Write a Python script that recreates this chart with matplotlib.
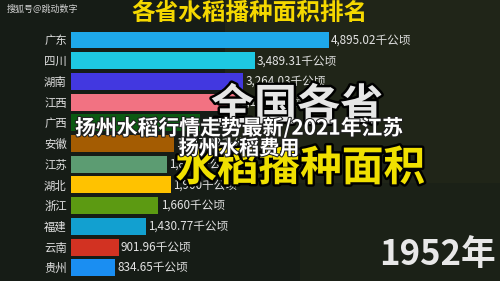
import matplotlib
matplotlib.use("Agg")
import matplotlib.pyplot as plt
import matplotlib.patheffects as pe

plt.rcParams['font.family'] = ['Noto Sans CJK SC', 'DejaVu Sans']

provinces = ['广东', '四川', '湖南', '江西', '广西', '安徽', '江苏', '湖北',
             '浙江', '福建', '云南', '贵州']
area = [4895.02, 3489.31, 3264.03, 3180.0, 2450.0, 1947.33, 1820.0, 1900.0,
        1660.0, 1430.77, 901.96, 834.65]
labels = ['4,895.02千公顷', '3,489.31千公顷', '3,264.03千公顷', '3,180千公顷',
          '2,450千公顷', '1,947.33千公顷', '1,820千公顷', '1,900千公顷',
          '1,660千公顷', '1,430.77千公顷', '901.96千公顷', '834.65千公顷']
colors = ['#1ea8ea', '#1ec8e2', '#4238e0', '#f27282', '#0b5a12', '#a45c02',
          '#5c9c72', '#ffc200', '#5c9a12', '#12a0d0', '#d23222', '#1a8ef2']

fig = plt.figure(figsize=(5, 2.81), dpi=100)
fig.patch.set_facecolor('#161c16')

# olive tint of the background photo on the right
bg = fig.add_axes([0, 0, 1, 1], zorder=0)
bg.set_xlim(0, 1)
bg.set_ylim(0, 1)
bg.axis('off')
bg.add_patch(plt.Rectangle((0.45, 0.35), 0.55, 0.65, color='#2a2e1a', alpha=0.55, lw=0))
bg.add_patch(plt.Rectangle((0.6, 0.0), 0.4, 0.35, color='#1f2618', alpha=0.6, lw=0))

ax = fig.add_axes([71 / 500, 0, 429 / 500, 1], zorder=1)
ax.set_facecolor('none')
ypos = list(range(len(provinces)))
ax.barh(ypos, area, height=0.82, color=colors)
for y, v, lab in zip(ypos, area, labels):
    ax.text(v + 40, y, lab, va='center', ha='left', fontsize=8.4, color='#e4e4e4')
ax.set_xlim(0, 8139)
ax.set_ylim(11.64, -1.932)
ax.set_yticks(ypos, provinces)
ax.tick_params(axis='y', length=0, pad=3, labelsize=8.2, labelcolor='#e0e0e0')
ax.set_xticks([])
for s in ax.spines.values():
    s.set_visible(False)

# texts on top
fig.text(0.5, 0.955, '各省水稻播种面积排名', ha='center', va='center', fontsize=17,
         fontweight='bold', color='#f5d800')
fig.text(0.014, 0.967, '搜狐号@跳动数字', ha='left', va='center', fontsize=6.5,
         color='#d4d4d4')
fig.text(0.992, 0.095, '1952年', ha='right', va='center', fontsize=25,
         fontweight='bold', color='#e8e8e8')

stroke = [pe.withStroke(linewidth=3.5, foreground='black')]
fig.text(0.594, 0.62, '全国各省', ha='center', va='center', fontsize=31,
         fontweight='heavy', color='#e6e6e6', path_effects=stroke, zorder=3)
fig.text(0.6, 0.40, '水稻播种面积', ha='center', va='center', fontsize=30,
         fontweight='heavy', color='#f0e000', style='italic', path_effects=stroke,
         zorder=3)
fig.text(0.479, 0.545, '扬州水稻行情走势最新/2021年江苏', ha='center', va='center',
         fontsize=15, fontweight='bold', color='white', zorder=4,
         path_effects=[pe.withStroke(linewidth=1.5, foreground='#202020')])
fig.text(0.478, 0.473, '扬州水稻费用', ha='center', va='center',
         fontsize=14.5, fontweight='bold', color='white', zorder=4,
         path_effects=[pe.withStroke(linewidth=1.5, foreground='#202020')])

fig.savefig('out.png', dpi=100, facecolor=fig.get_facecolor())
